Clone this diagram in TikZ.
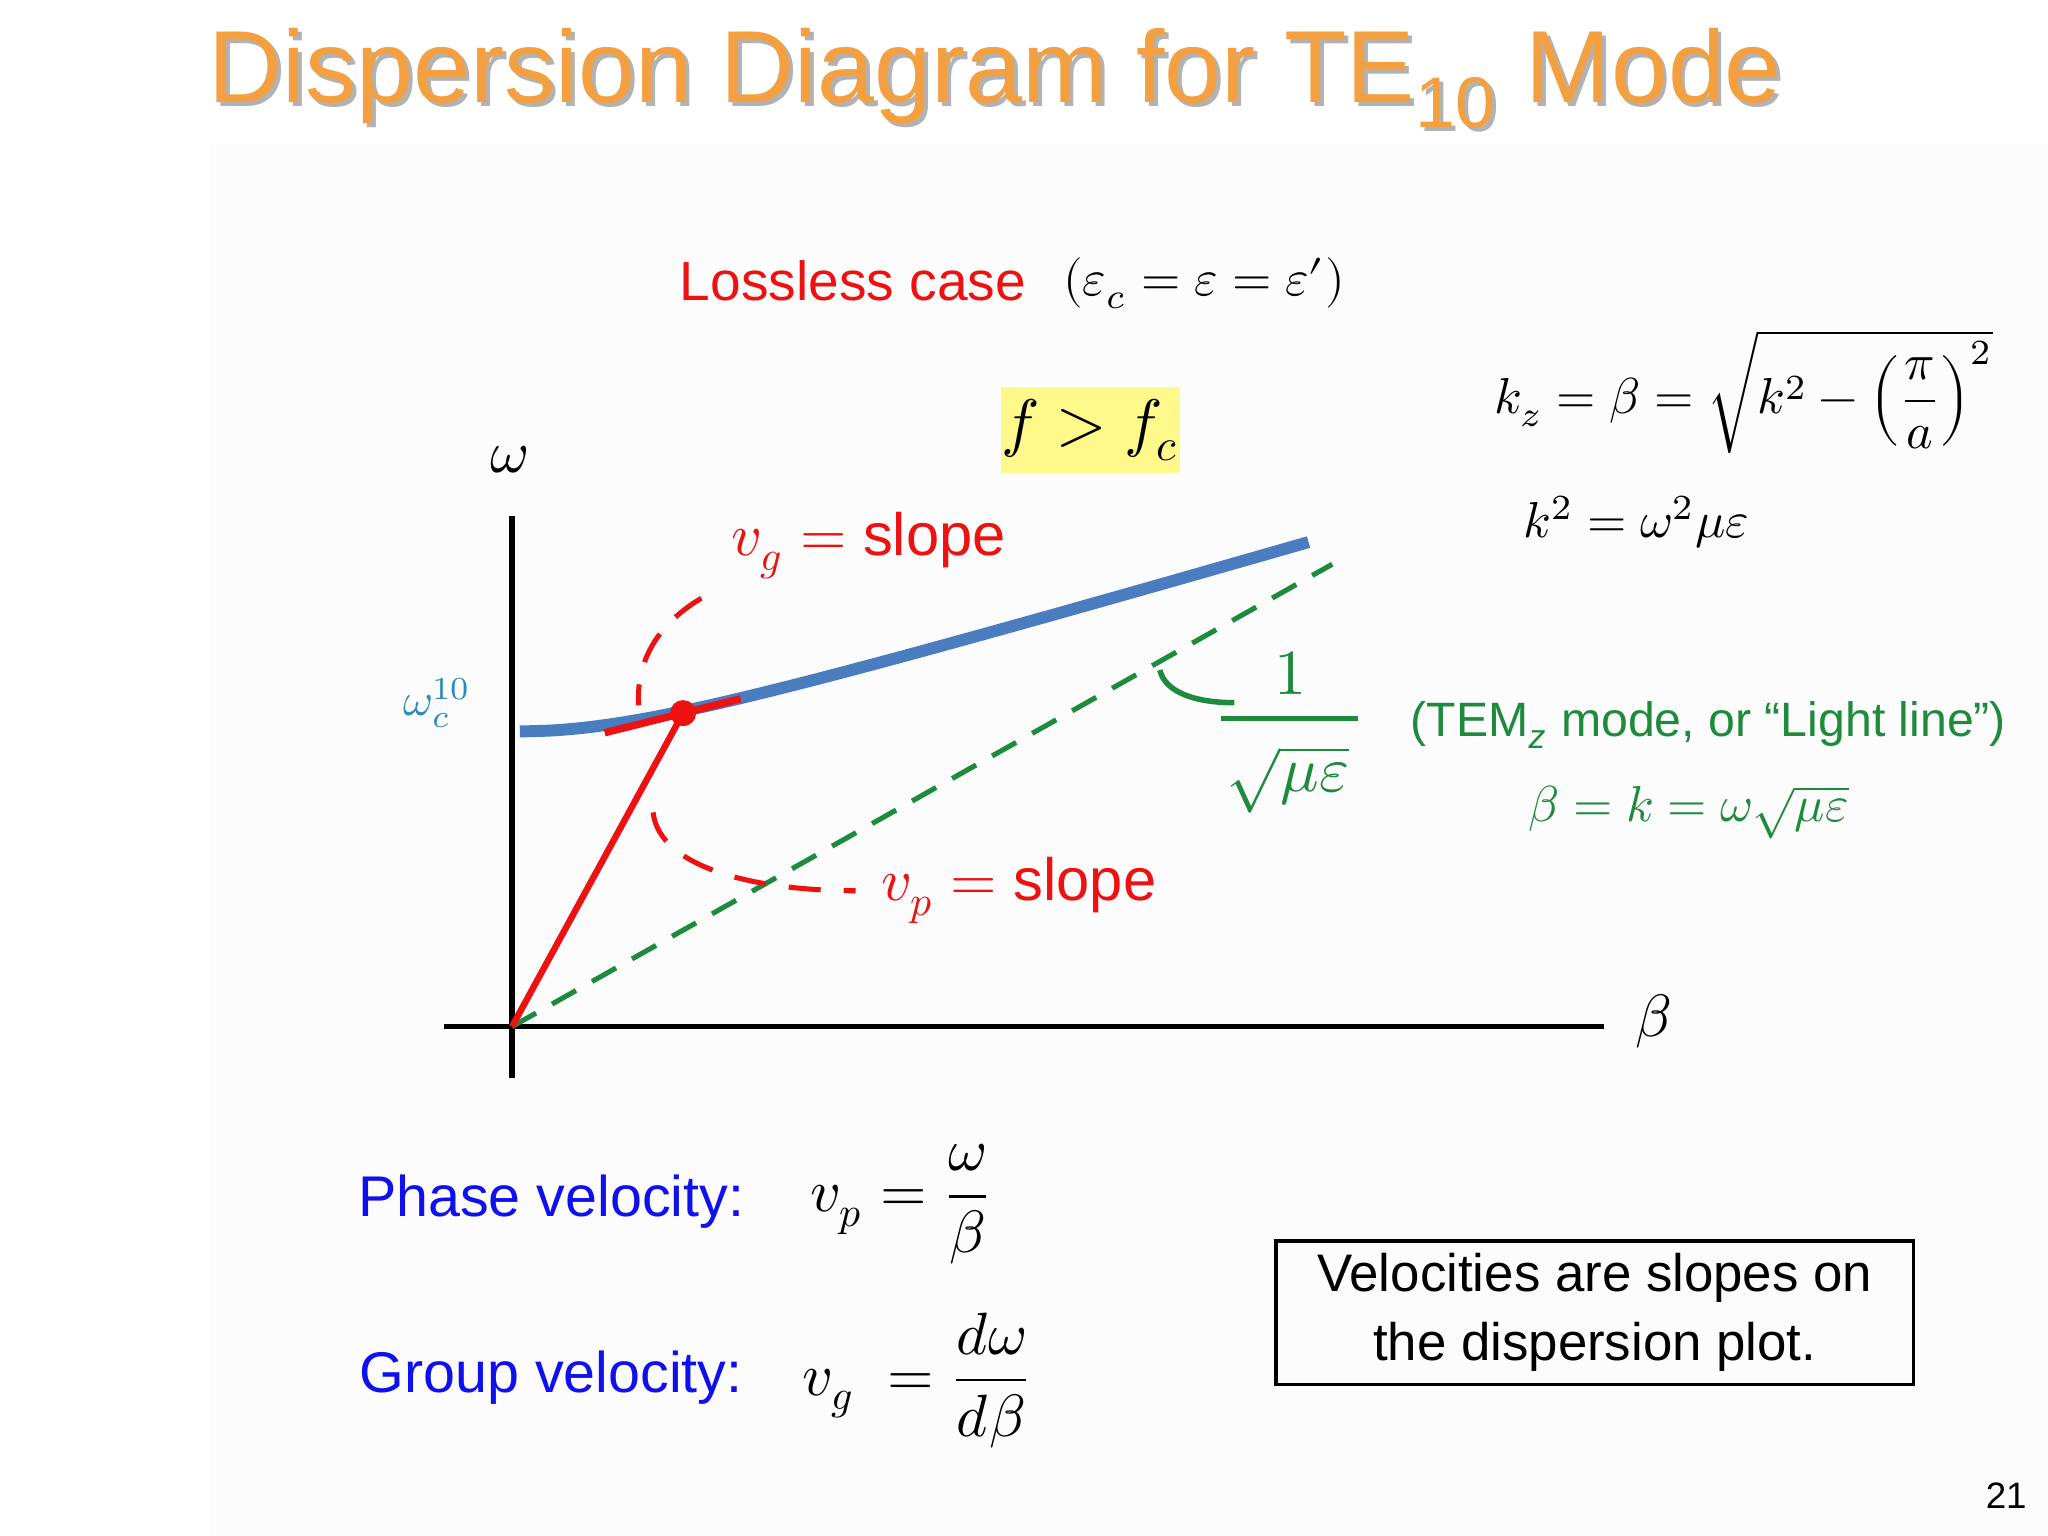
\documentclass[tikz,border=0pt]{standalone}
\usepackage{fontspec}
\setmainfont{Liberation Sans}
\usepackage{amsmath}
\usepackage{unicode-math}
\setmathfont{Latin Modern Math}
\definecolor{ttl}{HTML}{F4A040}
\definecolor{cblue}{HTML}{4A7DBF}
\definecolor{cgreen}{HTML}{1E8A3C}
\definecolor{cred}{HTML}{EE1111}
\definecolor{ttlblue}{HTML}{1010EE}
\definecolor{wblue}{HTML}{2A8AC0}
\begin{document}
\begin{tikzpicture}[x=0.01cm,y=-0.01cm,
  lbl/.style={inner sep=0pt,anchor=center},
  reddash/.style={cred,dashed,line width=2.2pt,dash pattern=on 7pt off 5pt}]
\useasboundingbox (0,0) rectangle (1568,1176);
\fill[gray!2] (160,110) rectangle (1568,1176);
% title
\node[lbl,text=gray!60,font=\fontsize{22.3}{26}\selectfont] at (765,63) {Dispersion Diagram for TE\textsubscript{10} Mode};
\node[lbl,text=ttl,font=\fontsize{22.3}{26}\selectfont] (title) at (762,60) {Dispersion Diagram for TE\textsubscript{10} Mode};
\node[lbl,text=cred,font=\fontsize{12}{14}\selectfont] (loss) at (653,215) {Lossless case};
\node[lbl,font=\fontsize{11}{14}\selectfont] (eps) at (922,217) {$\left(\varepsilon_c=\varepsilon=\varepsilon'\right)$};
\node[fill=yellow!45,minimum width=137*0.01cm,minimum height=66*0.01cm,inner sep=0pt,font=\fontsize{14}{18}\selectfont] (ffc) at (835,329) {$f>f_c$};
% axes
\coordinate (yb) at (392,825); \coordinate (yt) at (392,395);
\coordinate (xl) at (340,786); \coordinate (xr) at (1228,786);
\draw[line width=1.1pt] (yb)--(yt);
\draw[line width=1.1pt] (xl)--(xr);
\coordinate (O) at (392,786);
\node[lbl,font=\fontsize{13}{16}\selectfont] (om) at (390,352) {$\omega$};
\node[lbl,font=\fontsize{13}{16}\selectfont] (be) at (1266,782) {$\beta$};
\node[lbl,text=wblue,font=\fontsize{10}{14}\selectfont] (wc) at (335,538) {$\omega_c^{10}$};
% curves
\coordinate (gl) at (1020,432);
\draw[cgreen,line width=1.1pt,dash pattern=on 6pt off 4pt] (O)--(gl);
\draw[cblue,line width=2.6pt] plot[smooth,domain=0:1] ({398+604*\x},{560-(sqrt(1+(5*\x)^2)-1)/(sqrt(1+5^2)-1)*145});
\coordinate (P) at (523,546);
\coordinate (t1) at (463,561); \coordinate (t2) at (567,535);
\draw[cred,line width=1.4pt] (O)--(P);
\draw[cred,line width=1.6pt] (t1)--(t2);
\fill[cred] (P) circle (10);
\node[lbl,text=cred,font=\fontsize{13}{16}\selectfont] (vg) at (665,418) {$v_g$ $=$ slope};
\node[lbl,text=cred,font=\fontsize{13}{16}\selectfont] (vp) at (780,682) {$v_p$ $=$ slope};
\coordinate (a1) at (537,458); \coordinate (a2) at (489,540);
\draw[reddash,line width=1.1pt] (a1) .. controls (500,480) and (487,510) .. (a2);
\coordinate (b1) at (500,622); \coordinate (b2) at (655,682);
\draw[reddash,line width=1.1pt] (b1) .. controls (505,665) and (580,682) .. (b2);
% light line label
\node[lbl,text=cgreen,font=\fontsize{14}{18}\selectfont] (one) at (988,515) {$1$};
\draw[cgreen,line width=1.1pt] (935,550)--(1040,550);
\node[lbl,text=cgreen,font=\fontsize{14}{18}\selectfont] (sq) at (986,597) {$\sqrt{\mu\varepsilon}$};
\draw[cgreen,line width=1.2pt] (888,513) .. controls (892,530) and (915,538) .. (945,538);
\node[lbl,text=cgreen,font=\fontsize{10.5}{14}\selectfont] (tem) at (1308,555) {(TEM\textsubscript{\itshape z} mode, or “Light line”)};
\node[lbl,text=cgreen,font=\fontsize{11}{14}\selectfont] (bk) at (1293,622) {$\beta=k=\omega\sqrt{\mu\varepsilon}$};
% formulas
\node[lbl,font=\fontsize{11}{14}\selectfont] (kz) at (1335,300) {$k_z=\beta=\sqrt{k^2-\left(\dfrac{\pi}{a}\right)^{2}}$};
\node[lbl,font=\fontsize{11}{14}\selectfont] (k2) at (1253,400) {$k^2=\omega^2\mu\varepsilon$};
\node[lbl,text=ttlblue,font=\fontsize{12.5}{16}\selectfont] (pv) at (422,920) {Phase velocity:};
\node[lbl,font=\fontsize{13}{18}\selectfont] (pvf) at (690,922) {$v_p=\dfrac{\omega}{\beta}$};
\node[lbl,text=ttlblue,font=\fontsize{12.5}{16}\selectfont] (gv) at (422,1055) {Group velocity:};
\node[lbl,font=\fontsize{13}{18}\selectfont] (gvf) at (702,1057) {$v_g\ =\dfrac{d\omega}{d\beta}$};
\node[draw,line width=0.8pt,minimum width=488*0.01cm,minimum height=110*0.01cm,align=center,font=\fontsize{11.5}{15}\selectfont,inner sep=0pt] (box) at (1221,1005) {Velocities are slopes on\\the dispersion plot.};
\node[lbl,font=\fontsize{8}{10}\selectfont] (pg) at (1536,1145) {21};
\end{tikzpicture}
\end{document}
